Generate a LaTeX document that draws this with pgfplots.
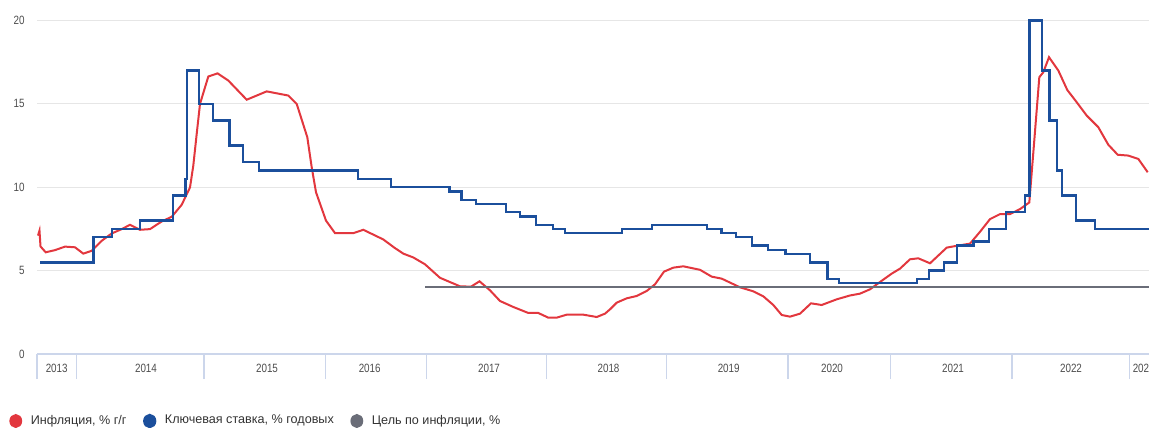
\documentclass[border=0pt]{standalone}
\usepackage{fontspec}
\setmainfont{Liberation Sans}[FakeStretch=0.82]
\newfontfamily\legfont{Liberation Sans}
\usepackage{pgfplots}
\pgfplotsset{compat=1.18}
\definecolor{infl}{HTML}{E2373E}
\definecolor{rate}{HTML}{1B4F9C}
\definecolor{target}{HTML}{6A6D78}
\definecolor{gridc}{HTML}{E6E6E6}
\definecolor{axisc}{HTML}{CCD6EB}
\definecolor{lab}{HTML}{4D4D4D}
\definecolor{legt}{HTML}{333333}
\begin{document}
\begin{tikzpicture}
\begin{axis}[
  x=0.5pt, y=8.3375pt,
  xmin=37, xmax=1149, ymin=0, ymax=20,
  axis line style={draw=none},
  ytick={5,10,15,20},
  extra y ticks={0},
  extra y tick style={grid style={draw=axisc, line width=0.6pt}},
  ymajorgrids,
  grid style={draw=gridc, line width=0.5pt},
  major tick length=0pt,
  tick style={draw=axisc, line width=0.6pt},
  xtick pos=bottom, ytick pos=left,
  xtick={56.7,146,267,369.7,489,608.5,728.7,832,953,1071,1143.7},
  xticklabels={2013,2014,2015,2016,2017,2018,2019,2020,2021,2022,2023},
  extra x ticks={37,76.5,204,325.5,426.5,546.5,666.5,788,890.5,1012,1129.5},
  extra x tick labels={,,,,,,,,,,},
  extra x tick style={major tick length=12.5pt, tick align=outside, xmajorgrids=false},
  x tick label style={anchor=center, yshift=-7.3pt, inner sep=0pt},
  y tick label style={anchor=east, xshift=-6pt, inner sep=0pt},
  tick label style={font=\fontsize{6}{7}\selectfont, text=lab},
  /pgf/number format/assume math mode=true,
  clip=false,
  legend columns=-1,
  legend style={at={(-0.0252,-0.2009)}, anchor=west, draw=none, fill=none, inner sep=0pt,
    font=\legfont\fontsize{6.3}{7.3}\selectfont, text=legt,
    /tikz/every odd column/.append style={column sep=2.3pt},
    /tikz/every even column/.append style={column sep=6.3pt}},
  legend image code/.code={\fill[#1] (2.7pt,0pt) ellipse [x radius=2.7pt, y radius=3pt];},
]
\addplot[color=infl, line width=1pt] coordinates {
(38,7.1) (39.5,7.4) (40.5,6.45) (45.7,6.1) (55,6.23) (65,6.44) (75,6.4) (83.3,6.02)
(91.7,6.19) (101.7,6.79) (111.7,7.23) (121.7,7.49) (130,7.75) (140,7.45) (150,7.49)
(161.7,7.95) (171.7,8.23) (181.7,8.95) (190,9.99) (193.3,11.3) (196.7,13.2) (200,15.0)
(208.3,16.64) (217.5,16.83) (228.3,16.4) (246.7,15.25) (266.7,15.75) (288.3,15.5)
(296.7,15.0) (307.3,13.0) (311.7,11.2) (316,9.7) (326,8.0) (335,7.25) (353.3,7.25)
(363.3,7.45) (383.3,6.87) (395,6.35) (403.3,6.02) (413.3,5.79) (425,5.38) (440,4.57)
(460,4.06) (471,4.04) (479.5,4.36) (490,3.82) (500,3.18) (513.3,2.82) (528.3,2.46)
(538.3,2.46) (548.3,2.18) (556.7,2.18) (566.7,2.36) (583.3,2.36) (596.7,2.22) (605,2.42)
(610,2.68) (616.7,3.08) (626.7,3.34) (636.7,3.48) (646.7,3.78) (655,4.18) (664,4.94)
(673.3,5.18) (683.3,5.26) (700,5.05) (711.7,4.64) (721.7,4.52) (740,4.0) (753.3,3.76)
(763.3,3.46) (773.3,2.94) (781.7,2.34) (790,2.24) (800,2.42) (811,3.04) (821.7,2.94)
(836.7,3.28) (850,3.51) (860,3.62) (870,3.88) (880,4.32) (891.7,4.82) (900,5.12)
(910,5.68) (918.3,5.74) (930,5.44) (946.7,6.38) (956.7,6.49) (970,6.62) (980,7.33)
(990,8.09) (1000,8.39) (1010,8.39) (1020,8.69) (1029.3,9.09) (1034,12.6) (1039.3,16.6)
(1043.3,16.9) (1049,17.8) (1058.3,17.0) (1067.3,15.83) (1076.7,15.1) (1086.7,14.3)
(1098.3,13.6) (1108.3,12.55) (1117.7,11.95) (1128.3,11.9) (1138.3,11.7) (1147.7,10.9)
};
\addlegendentry{Инфляция, \% г/г}
\addplot[color=rate, line width=1.2pt, const plot mark left] coordinates {
(40,5.5) (93.3,7.0) (112,7.5) (140,8.0) (172.7,9.5) (185.3,10.5) (186.7,17) (199,15)
(213,14) (229.3,12.5) (242.7,11.5) (258.7,11) (358,10.5) (390.7,10) (449.3,9.75)
(461.3,9.25) (476,9.0) (506,8.5) (520,8.25) (536,7.75) (552.7,7.5) (564.7,7.25)
(622,7.5) (652,7.75) (706.7,7.5) (721.3,7.25) (736,7.0) (752,6.5) (768,6.25)
(785.3,6.0) (810,5.5) (827.3,4.5) (838.7,4.25) (916.7,4.5) (928.7,5.0) (944,5.5)
(956.7,6.5) (973.3,6.75) (988.7,7.5) (1006,8.5) (1024.7,9.5) (1029.3,20) (1042,17)
(1049.3,14) (1056.7,11) (1062,9.5) (1076,8.0) (1094.7,7.5) (1149,7.5)
};
\addlegendentry{Ключевая ставка, \% годовых}
\addplot[color=target, line width=1pt] coordinates {(425,4) (1149,4)};
\addlegendentry{Цель по инфляции, \%}
\coordinate (bbll) at (axis cs:0,-4.378);
\coordinate (bbur) at (axis cs:1149,21.23);
\end{axis}
\pgfresetboundingbox
\path[use as bounding box] (bbll) rectangle (bbur);
\end{tikzpicture}
\end{document}
